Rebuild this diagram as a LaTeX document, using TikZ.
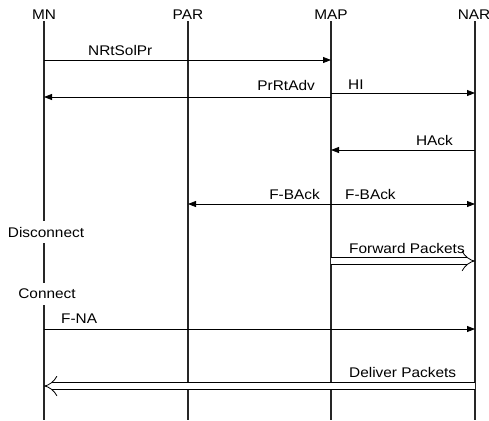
\documentclass[tikz,border=0pt]{standalone}
\usepackage{fontspec}
\setmainfont{Liberation Sans}[FakeStretch=1.1]
\usetikzlibrary{arrows.meta}
\begin{document}
\begin{tikzpicture}[x=1bp,y=-1bp,
  font=\fontsize{14bp}{16bp}\selectfont,
  life/.style={line width=1.4bp, draw=black!85},
  msg/.style={line width=0.8bp, -{Triangle[length=8bp,width=6bp]}},
  bimsg/.style={line width=0.8bp, {Triangle[length=8bp,width=6bp]}-{Triangle[length=8bp,width=6bp]}},
  dmsg/.style={line width=0.8bp, double, double distance=6.5bp, -{Implies[length=3bp]}},
  hdr/.style={anchor=base, inner sep=2bp},
  lbl/.style={inner sep=0pt},
  state/.style={fill=white, inner xsep=1bp, inner ysep=6bp}]
\useasboundingbox (0,0) rectangle (489,420);
% headers
\node[hdr] (MN)  at (44,19)  {MN};
\node[hdr] (PAR) at (188,19) {PAR};
\node[hdr] (MAP) at (331,19) {MAP};
\node[hdr] (NAR) at (474,19) {NAR};
\coordinate (MNe)  at (44,420);
\coordinate (PARe) at (188,420);
\coordinate (MAPe) at (331,420);
\coordinate (NARe) at (475,420);
\draw[life] (MN.south)  -- (MNe);
\draw[life] (PAR.south) -- (PARe);
\draw[life] (MAP.south) -- (MAPe);
\draw[life] (475,0 |- NAR.south) coordinate (NARs) -- (NARe);
% message end points
\coordinate (mn1) at (44,60);  \coordinate (map1) at (331,60);
\coordinate (map2) at (331,97); \coordinate (mn2) at (44,97);
\coordinate (map3) at (331,93); \coordinate (nar3) at (475,93);
\coordinate (nar4) at (475,150); \coordinate (map4) at (331,150);
\coordinate (map5) at (331,204); \coordinate (par5) at (188,204); \coordinate (nar5) at (475,204);
\coordinate (map6) at (331,261); \coordinate (nar6) at (475,261);
\coordinate (mn7) at (44,329); \coordinate (nar7) at (475,329);
\coordinate (nar8) at (475,386); \coordinate (mn8) at (44,386);
% messages
\draw[msg] (mn1) -- (map1);
\node[lbl, anchor=base west] (l1) at (88,55) {NRtSolPr};
\draw[msg] (map2) -- (mn2);
\node[lbl, anchor=base east] (l2) at (315,90) {PrRtAdv};
\draw[msg] (map3) -- (nar3);
\node[lbl, anchor=base west] (l3) at (348,89) {HI};
\draw[msg] (nar4) -- (map4);
\node[lbl, anchor=base east] (l4) at (453,145) {HAck};
\draw[bimsg] (par5) -- (nar5);
\node[lbl, anchor=base east] (l5a) at (320,199) {F-BAck};
\node[lbl, anchor=base west] (l5b) at (345,199) {F-BAck};
\node[state] (disc) at (46,232) {Disconnect};
\draw[dmsg] (map6) -- (nar6);
\node[lbl, anchor=base west] (l6) at (349,253) {Forward Packets};
\node[state] (conn) at (47,294) {Connect};
\draw[msg] (mn7) -- (nar7);
\node[lbl, anchor=base west] (l7) at (61,323) {F-NA};
\draw[dmsg] (nar8) -- (mn8);
\node[lbl, anchor=base west] (l8) at (349,377) {Deliver Packets};
\end{tikzpicture}
\end{document}
